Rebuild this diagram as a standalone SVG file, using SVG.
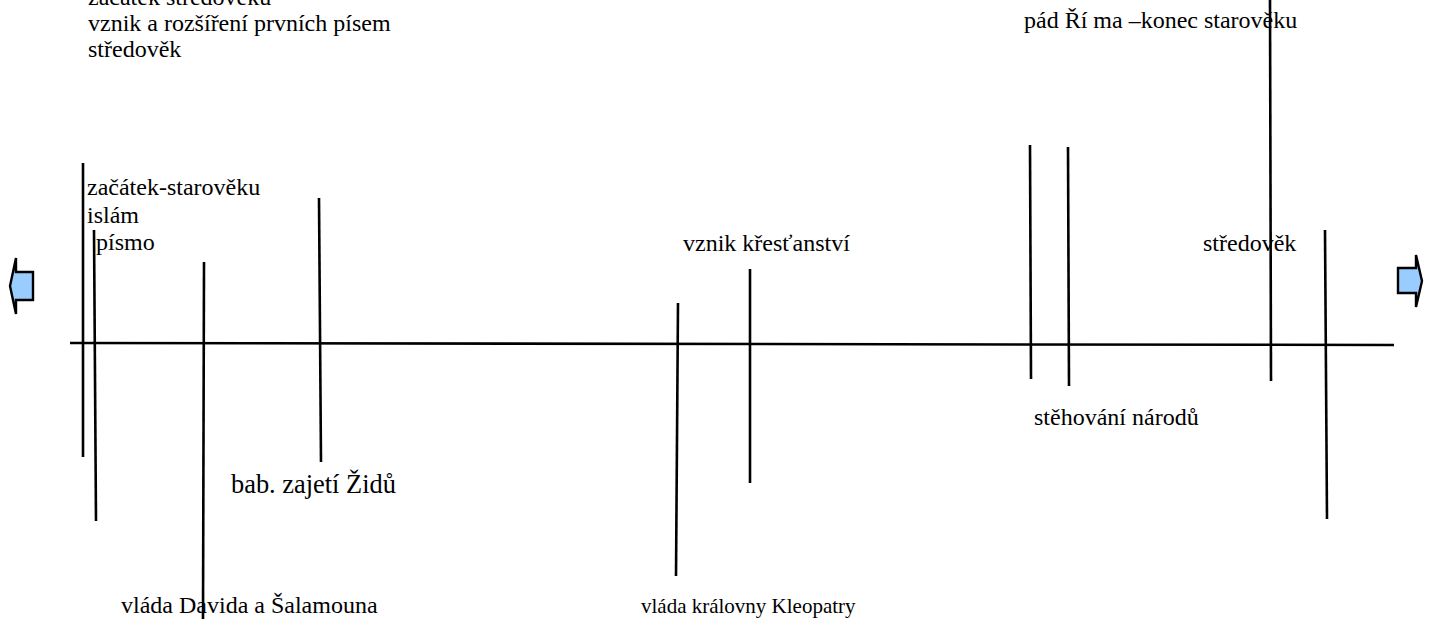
<svg xmlns="http://www.w3.org/2000/svg" width="1432" height="619" viewBox="0 0 1432 619">
<style>
.t{font-family:"Liberation Serif","Times New Roman",serif;font-size:24px;fill:#000}
.l{stroke:#000;stroke-width:2.6;fill:none}
.arr{fill:#99CCFF;stroke:#000;stroke-width:2.4;stroke-linejoin:miter}
</style>
<rect width="1432" height="619" fill="#fff"/>
<g id="connectors">
<line class="l" x1="70" y1="343" x2="1394" y2="345"/>
<line class="l" x1="83" y1="163" x2="83" y2="457"/>
<line class="l" x1="94" y1="230" x2="96" y2="521"/>
<line class="l" x1="204" y1="262" x2="203" y2="619"/>
<line class="l" x1="319" y1="198" x2="321" y2="462"/>
<line class="l" x1="678" y1="303" x2="676" y2="576"/>
<line class="l" x1="750" y1="269" x2="750" y2="483"/>
<line class="l" x1="1030" y1="145" x2="1031" y2="379"/>
<line class="l" x1="1068" y1="147" x2="1069" y2="386"/>
<line class="l" x1="1270" y1="0" x2="1271" y2="381"/>
<line class="l" x1="1325" y1="230" x2="1327" y2="519"/>
</g>
<g id="arrow-left"><path class="arr" d="M33,272 L16,272 L16,258 L10,286 L16,314 L16,300 L33,300 Z"/></g>
<g id="arrow-right"><path class="arr" d="M1398,268 L1416,268 L1416,255 L1422,281 L1416,307 L1416,293 L1398,293 Z"/></g>
<g id="top-left"><text class="t" x="88" y="5">začátek středověku</text><text class="t" x="88" y="31">vznik a rozšíření prvních písem</text><text class="t" x="88" y="57">středověk</text></g>
<g id="top-right"><text class="t" x="1024" y="28">pád Ří ma –konec starověku</text></g>
<g id="left-labels"><text class="t" x="87" y="195">začátek-starověku</text><text class="t" x="87" y="223">islám</text><text class="t" x="96" y="250">písmo</text></g>
<g id="krestanstvi"><text class="t" x="683" y="251">vznik křesťanství</text></g>
<g id="stredovek"><text class="t" x="1203" y="251">středověk</text></g>
<g id="stehovani"><text class="t" x="1034" y="425">stěhování národů</text></g>
<g id="zajeti"><text class="t" x="231" y="493" style="font-size:26.4px">bab. zajetí Židů</text></g>
<g id="david"><text class="t" x="121" y="613">vláda Davida a Šalamouna</text></g>
<g id="kleopatra"><text class="t" x="641" y="613" style="font-size:21px">vláda královny Kleopatry</text></g>
</svg>
